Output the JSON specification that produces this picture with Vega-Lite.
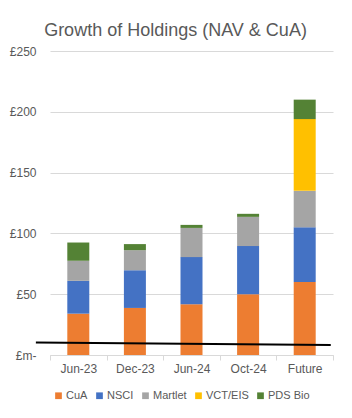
{
  "$schema": "https://vega.github.io/schema/vega-lite/v6.json",
  "autosize": "none",
  "width": 283,
  "height": 304,
  "padding": {"left": 50, "top": 51, "right": 19, "bottom": 63},
  "background": "white",
  "title": {"text": "Growth of Holdings (NAV & CuA)", "font": "Liberation Sans", "fontSize": 18, "fontWeight": "normal", "color": "#595959", "anchor": "middle", "dx": -16, "offset": 5},
  "config": {"view": {"stroke": null}},
  "layer": [
    {
      "data": {"values": [
        {"period": "Jun-23", "holding": "CuA", "value": 34},
        {"period": "Jun-23", "holding": "NSCI", "value": 27},
        {"period": "Jun-23", "holding": "Martlet", "value": 16.5},
        {"period": "Jun-23", "holding": "VCT/EIS", "value": 0},
        {"period": "Jun-23", "holding": "PDS Bio", "value": 15},
        {"period": "Dec-23", "holding": "CuA", "value": 38.7},
        {"period": "Dec-23", "holding": "NSCI", "value": 31},
        {"period": "Dec-23", "holding": "Martlet", "value": 16.5},
        {"period": "Dec-23", "holding": "VCT/EIS", "value": 0},
        {"period": "Dec-23", "holding": "PDS Bio", "value": 5},
        {"period": "Jun-24", "holding": "CuA", "value": 41.8},
        {"period": "Jun-24", "holding": "NSCI", "value": 38.7},
        {"period": "Jun-24", "holding": "Martlet", "value": 24},
        {"period": "Jun-24", "holding": "VCT/EIS", "value": 0},
        {"period": "Jun-24", "holding": "PDS Bio", "value": 2.5},
        {"period": "Oct-24", "holding": "CuA", "value": 50},
        {"period": "Oct-24", "holding": "NSCI", "value": 39.6},
        {"period": "Oct-24", "holding": "Martlet", "value": 24},
        {"period": "Oct-24", "holding": "VCT/EIS", "value": 0},
        {"period": "Oct-24", "holding": "PDS Bio", "value": 2.5},
        {"period": "Future", "holding": "CuA", "value": 60},
        {"period": "Future", "holding": "NSCI", "value": 45},
        {"period": "Future", "holding": "Martlet", "value": 30},
        {"period": "Future", "holding": "VCT/EIS", "value": 59},
        {"period": "Future", "holding": "PDS Bio", "value": 16}
      ]},
      "transform": [
        {"calculate": "indexof(['CuA','NSCI','Martlet','VCT/EIS','PDS Bio'], datum.holding)", "as": "stackIndex"}
      ],
      "mark": {"type": "bar", "size": 22},
      "encoding": {
        "x": {"field": "period", "type": "nominal", "sort": ["Jun-23", "Dec-23", "Jun-24", "Oct-24", "Future"],
          "scale": {"paddingInner": 0, "paddingOuter": 0},
          "axis": {"title": null, "labelAngle": 0, "labelFont": "Liberation Sans", "labelFontSize": 12, "labelColor": "#595959", "labelPadding": 3,
            "domainColor": "#D9D9D9", "tickColor": "#D9D9D9", "tickBand": "extent", "tickSize": 5, "grid": false}},
        "y": {"field": "value", "type": "quantitative", "stack": "zero",
          "scale": {"domain": [0, 250]},
          "axis": {"title": null, "values": [0, 50, 100, 150, 200, 250], "labelExpr": "datum.value == 0 ? '£m-' : '£' + datum.value",
            "labelFont": "Liberation Sans", "labelFontSize": 12, "labelColor": "#595959", "labelPadding": 14,
            "domain": false, "ticks": false, "gridColor": "#D9D9D9", "gridWidth": 1}},
        "color": {"field": "holding", "type": "nominal",
          "scale": {"domain": ["CuA", "NSCI", "Martlet", "VCT/EIS", "PDS Bio"], "range": ["#ED7D31", "#4472C4", "#A5A5A5", "#FFC000", "#548235"]},
          "legend": {"title": null, "orient": "none", "legendX": 3, "legendY": 339, "direction": "horizontal", "symbolType": "square", "symbolSize": 45, "symbolStrokeWidth": 0,
            "labelFont": "Liberation Sans", "labelFontSize": 11, "labelColor": "#595959", "labelOffset": 2, "columnPadding": 6}},
        "order": {"field": "stackIndex", "type": "quantitative"}
      }
    },
    {
      "data": {"values": [
        {"pos": -0.25, "level": 10.2},
        {"pos": 4.96, "level": 8.2}
      ]},
      "mark": {"type": "line", "color": "black", "strokeWidth": 2, "clip": false},
      "encoding": {
        "x": {"field": "pos", "type": "quantitative", "scale": {"domain": [0, 5]}, "axis": null},
        "y": {"field": "level", "type": "quantitative", "scale": {"domain": [0, 250]}}
      }
    }
  ],
  "resolve": {"scale": {"x": "independent"}}
}
